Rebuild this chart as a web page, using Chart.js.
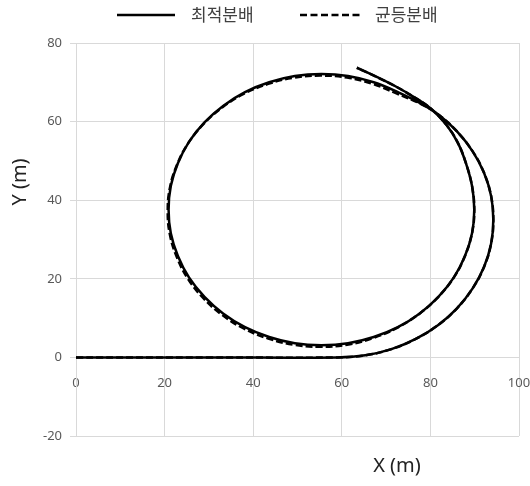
<!DOCTYPE html>
<html>
<head>
<meta charset="utf-8">
<script src="https://cdn.jsdelivr.net/npm/chart.js@4"></script>
<style>
  html, body { margin: 0; padding: 0; background: #ffffff; }
  canvas { display: block; }
</style>
</head>
<body>
<canvas id="chart" width="530" height="486"></canvas>
<script>
// Series names shown in the legend
const seriesNames = ['최적분배', '균등분배'];
const axisTitles = ['X (m)', 'Y (m)'];

// Axis ticks (metres)
const xTicks = [0, 20, 40, 60, 80, 100];
const yTicks = [-20, 0, 20, 40, 60, 80];

// Trajectory with optimal distribution: straight run, wide first turn, full loop, exit tail
const optimalX = [0, 30, 59, 65.3, 71.2, 76.7, 81.7, 86.0, 89.5, 92.1, 93.7, 94.2, 93.7, 92.1, 89.5, 86.0, 82.0, 78.0,
  72.65, 67.2, 61.4, 55.4, 49.4, 43.6, 38.15, 33.2, 29.0, 25.5, 23.0, 21.4, 20.9, 21.4, 23.0, 25.5, 29.0, 33.2, 38.15,
  43.6, 49.4, 55.4, 61.4, 67.2, 72.65, 77.6, 81.8, 85.3, 87.8, 89.4, 89.9, 89.4, 88.0, 86.2, 83.6, 80.0, 76.2,
  72.4, 68.0, 63.4];
const optimalY = [0, 0, 0, 0.53, 2.1, 4.7, 8.2, 12.5, 17.5, 23.0, 28.9, 35.0, 41.1, 47.0, 52.5, 57.5, 61.6, 64.5,
  67.5, 70.0, 71.6, 72.1, 71.6, 70.0, 67.5, 64.0, 59.8, 54.85, 49.4, 43.6, 37.6, 31.6, 25.8, 20.35, 15.4, 11.2, 7.7,
  5.2, 3.6, 3.1, 3.6, 5.2, 7.7, 11.2, 15.4, 20.35, 25.8, 31.6, 37.6, 43.6, 49.5, 54.6, 59.2, 63.4, 66.3,
  68.8, 71.3, 73.7];

// Trajectory with uniform distribution
const uniformX = [0, 30, 59, 65.3, 71.2, 76.7, 81.7, 86.0, 89.5, 92.1, 93.7, 94.2, 93.7, 92.1, 89.5, 86.0, 82.0, 78.0,
  72.45, 67.0, 61.2, 55.2, 49.2, 43.4, 37.95, 33.0, 28.8, 25.3, 22.8, 21.2, 20.7, 21.2, 22.8, 25.3, 28.8, 33.0, 37.95,
  43.4, 49.2, 55.2, 61.2, 67.0, 72.6, 77.6, 81.8, 85.3, 87.8, 89.4, 89.9, 89.4, 88.0, 86.2, 83.6, 80.0, 76.2,
  72.4, 68.0, 63.4];
const uniformY = [0, 0, 0, 0.53, 2.1, 4.7, 8.2, 12.5, 17.5, 23.0, 28.9, 35.0, 41.1, 47.0, 52.5, 57.5, 61.6, 64.4,
  67.1, 69.6, 71.2, 71.7, 71.2, 69.6, 67.1, 63.6, 59.4, 54.45, 49.0, 43.2, 37.2, 31.2, 25.4, 19.95, 15.0, 10.8, 7.3,
  4.8, 3.2, 2.7, 3.2, 4.9, 7.6, 11.2, 15.4, 20.35, 25.8, 31.6, 37.6, 43.6, 49.5, 54.6, 59.2, 63.4, 66.3,
  68.8, 71.3, 73.7];

const toPoints = (xs, ys) => xs.map((x, i) => ({ x: x, y: ys[i] }));

const GRID = '#d9d9d9';
const TICK_COLOR = '#595959';
const NUM_FONT = '"Noto Sans", "Liberation Sans", sans-serif';
const KR_FONT = '"Noto Sans CJK KR", "Noto Sans", sans-serif';

// Legend row and axis titles drawn on top of the chart
const decorations = {
  id: 'decorations',
  afterDraw(chart) {
    const ctx = chart.ctx;
    ctx.save();
    // legend
    const ly = 15;
    ctx.strokeStyle = '#000000';
    ctx.lineWidth = 2.5;
    ctx.setLineDash([]);
    ctx.beginPath(); ctx.moveTo(117, ly); ctx.lineTo(175, ly); ctx.stroke();
    ctx.setLineDash([7, 3.5]);
    ctx.beginPath(); ctx.moveTo(300, ly); ctx.lineTo(362, ly); ctx.stroke();
    ctx.setLineDash([]);
    ctx.fillStyle = '#404040';
    ctx.font = '17px ' + KR_FONT;
    ctx.textAlign = 'left';
    ctx.textBaseline = 'middle';
    ctx.fillText(seriesNames[0], 191, ly);
    ctx.fillText(seriesNames[1], 375, ly);

    // axis titles
    ctx.fillStyle = '#222222';
    ctx.font = '20px ' + NUM_FONT;
    ctx.textAlign = 'center';
    ctx.textBaseline = 'middle';
    ctx.fillText(axisTitles[0], 397, 466);
    ctx.translate(20, 182);
    ctx.rotate(-Math.PI / 2);
    ctx.fillText(axisTitles[1], 0, 0);
    ctx.restore();
  }
};

new Chart(document.getElementById('chart'), {
  type: 'scatter',
  data: {
    datasets: [
      {
        label: seriesNames[0],
        data: toPoints(optimalX, optimalY),
        showLine: true,
        borderColor: '#000000',
        borderWidth: 2.5,
        pointRadius: 0,
        tension: 0.4,
        fill: false
      },
      {
        label: seriesNames[1],
        data: toPoints(uniformX, uniformY),
        showLine: true,
        borderColor: '#000000',
        borderWidth: 2.5,
        borderDash: [7, 3],
        pointRadius: 0,
        tension: 0.4,
        fill: false
      }
    ]
  },
  options: {
    responsive: false,
    animation: false,
    layout: { padding: { top: 43, right: 11, bottom: 50, left: 0 } },
    plugins: {
      legend: { display: false },
      tooltip: { enabled: false }
    },
    scales: {
      x: {
        type: 'linear',
        position: { y: 0 },
        min: 0,
        max: 100,
        afterBuildTicks: (scale) => { scale.ticks = xTicks.map(v => ({ value: v })); },
        afterFit: (scale) => { scale.paddingLeft = 0; scale.paddingRight = 0; },
        grid: { color: GRID, lineWidth: 1, drawTicks: false },
        border: { display: true, color: GRID },
        ticks: { color: TICK_COLOR, padding: 18, font: { family: NUM_FONT, size: 13 }, maxRotation: 0 }
      },
      y: {
        type: 'linear',
        position: 'left',
        min: -20,
        max: 80,
        afterBuildTicks: (scale) => { scale.ticks = yTicks.map(v => ({ value: v })); },
        afterFit: (scale) => { scale.width = 76; scale.paddingTop = 0; scale.paddingBottom = 0; },
        grid: { color: GRID, lineWidth: 1, drawTicks: true, tickLength: 6 },
        border: { display: true, color: GRID },
        ticks: { color: TICK_COLOR, padding: 8, font: { family: NUM_FONT, size: 13 } }
      }
    }
  },
  plugins: [decorations]
});
</script>
</body>
</html>
